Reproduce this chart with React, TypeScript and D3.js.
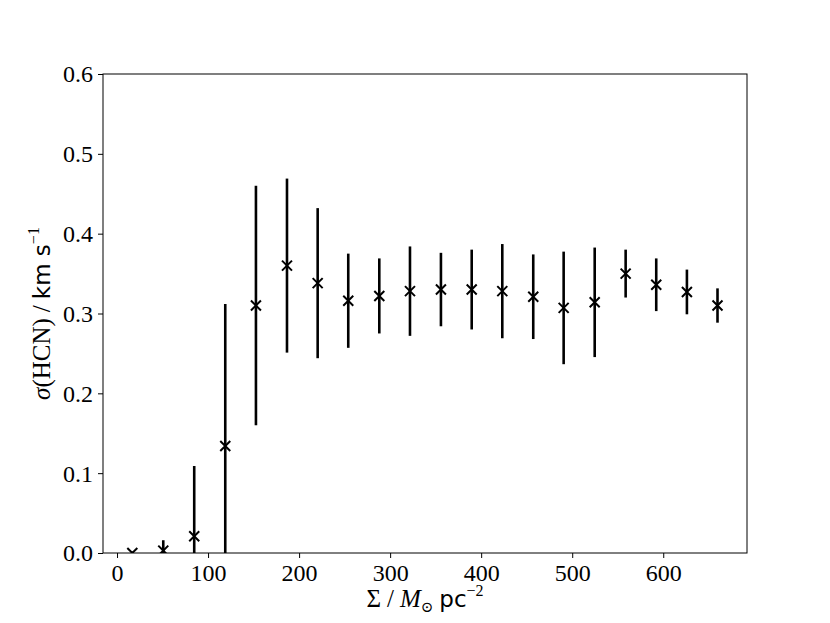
import React, { useEffect, useRef } from 'react';
import * as d3 from 'd3';

// surface density bins (M_sun pc^-2)
const sigmaGas = [16.8, 50.8, 84.8, 118.9, 152.6, 186.7, 220.4, 254.0, 288.1, 321.8, 355.8, 389.6, 423.2, 457.2, 490.6, 524.7, 558.7, 592.3, 626.0, 659.6];
// velocity dispersion of HCN (km/s)
const sigmaHCN = [0.0, 0.003, 0.021, 0.134, 0.310, 0.360, 0.338, 0.316, 0.322, 0.328, 0.330, 0.330, 0.328, 0.321, 0.307, 0.314, 0.350, 0.336, 0.327, 0.310];
const sigmaErr = [0.002, 0.013, 0.088, 0.178, 0.150, 0.109, 0.094, 0.059, 0.047, 0.056, 0.046, 0.050, 0.059, 0.053, 0.0705, 0.0686, 0.030, 0.033, 0.028, 0.0215];
const xTicks = [0, 100, 200, 300, 400, 500, 600];
const yTicks = [0.0, 0.1, 0.2, 0.3, 0.4, 0.5, 0.6];

export default function App() {
  const ref = useRef<SVGSVGElement | null>(null);

  useEffect(() => {
    if (!ref.current) return;
    const svg = d3.select(ref.current);
    svg.selectAll('*').remove();

    const left = 103, right = 747, top = 74, bottom = 553;
    const serif = '"Liberation Serif", "DejaVu Serif", serif';
    const sans = '"DejaVu Sans", "Liberation Sans", sans-serif';

    const x = d3.scaleLinear().domain([-15.4, 692]).range([left, right]);
    const y = d3.scaleLinear().domain([0, 0.6]).range([bottom, top]);

    svg.append('defs').append('clipPath').attr('id', 'plotclip')
      .append('rect')
      .attr('x', left).attr('y', top)
      .attr('width', right - left).attr('height', bottom - top);

    const data = sigmaGas.map((g, i) => ({ g, v: sigmaHCN[i], e: sigmaErr[i] }));
    const plot = svg.append('g').attr('clip-path', 'url(#plotclip)');

    // error bars
    plot.selectAll('line.err')
      .data(data)
      .enter()
      .append('line')
      .attr('class', 'err')
      .attr('x1', d => x(d.g)).attr('x2', d => x(d.g))
      .attr('y1', d => y(d.v - d.e)).attr('y2', d => y(d.v + d.e))
      .attr('stroke', '#000')
      .attr('stroke-width', 2.6);

    // x markers
    const ms = 5;
    plot.selectAll('path.mark')
      .data(data)
      .enter()
      .append('path')
      .attr('class', 'mark')
      .attr('d', d => {
        const cx = x(d.g), cy = y(d.v);
        return `M${cx - ms},${cy - ms}L${cx + ms},${cy + ms}M${cx - ms},${cy + ms}L${cx + ms},${cy - ms}`;
      })
      .attr('stroke', '#000')
      .attr('stroke-width', 2);

    // frame
    svg.append('rect')
      .attr('x', left).attr('y', top)
      .attr('width', right - left).attr('height', bottom - top)
      .attr('fill', 'none').attr('stroke', '#000').attr('stroke-width', 1);

    // x axis
    const xa = svg.append('g').attr('transform', `translate(0,${bottom})`)
      .call(d3.axisBottom(x).tickValues(xTicks).tickFormat(d3.format('d')).tickSizeOuter(0).tickSize(5).tickPadding(6));
    xa.select('.domain').remove();
    xa.selectAll('text').attr('font-family', serif).attr('font-size', 24).attr('fill', '#000').attr('dy', '0.7em');

    // y axis
    const ya = svg.append('g').attr('transform', `translate(${left},0)`)
      .call(d3.axisLeft(y).tickValues(yTicks).tickFormat(d3.format('.1f')).tickSizeOuter(0).tickSize(5).tickPadding(5));
    ya.select('.domain').remove();
    ya.selectAll('text').attr('font-family', serif).attr('font-size', 24).attr('fill', '#000').attr('dy', '0.33em');

    // x label
    const xl = svg.append('text')
      .attr('x', (left + right) / 2).attr('y', 607)
      .attr('text-anchor', 'middle')
      .attr('font-family', serif).attr('font-size', 25).attr('fill', '#000');
    xl.append('tspan').text('Σ');
    xl.append('tspan').attr('dx', 6).text('/');
    xl.append('tspan').attr('dx', 6).attr('font-style', 'italic').text('M');
    xl.append('tspan').attr('font-size', 15).attr('dy', 5).text('⊙');
    xl.append('tspan').attr('dy', -5).attr('dx', 6).attr('font-family', sans).attr('font-size', 23).text('pc');
    xl.append('tspan').attr('font-size', 16).attr('dy', -11).text('−2');

    // y label
    const yl = svg.append('text')
      .attr('transform', `translate(50,${(top + bottom) / 2}) rotate(-90)`)
      .attr('text-anchor', 'middle')
      .attr('font-family', serif).attr('font-size', 25).attr('fill', '#000');
    yl.append('tspan').attr('font-style', 'italic').text('σ');
    yl.append('tspan').text('(HCN)');
    yl.append('tspan').attr('dx', 6).text('/');
    yl.append('tspan').attr('dx', 6).attr('font-family', sans).attr('font-size', 23).text('km s');
    yl.append('tspan').attr('font-size', 16).attr('dy', -11).text('−1');
  }, []);

  return (
    <svg ref={ref} width={830} height={623}
      style={{ position: 'absolute', left: 0, top: 0, background: '#fff' }} />
  );
}
